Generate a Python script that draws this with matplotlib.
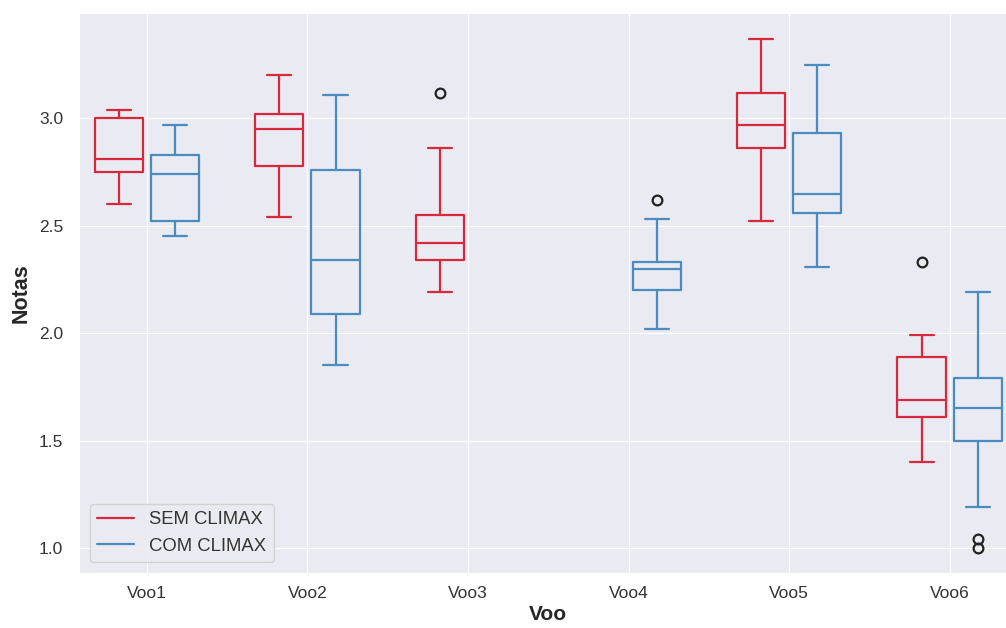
import numpy as np
import matplotlib.pyplot as plt
import seaborn as sns

sns.set_style("darkgrid")
plt.rcParams['font.family'] = ['Liberation Sans', 'DejaVu Sans']

voos = ["Voo1", "Voo2", "Voo3", "Voo4", "Voo5", "Voo6"]

# stats: whislo, q1, median, q3, whishi (None = no box)
sem_climax = [
    [2.60, 2.75, 2.81, 3.00, 3.04],
    [2.54, 2.78, 2.95, 3.02, 3.20],
    [2.19, 2.34, 2.42, 2.55, 2.86],
    None,
    [2.52, 2.86, 2.97, 3.12, 3.37],
    [1.40, 1.61, 1.69, 1.89, 1.99],
]
sem_fliers = [[], [], [3.12], [], [], [2.33]]

com_climax = [
    [2.45, 2.52, 2.74, 2.83, 2.97],
    [1.85, 2.09, 2.34, 2.76, 3.11],
    None,
    [2.02, 2.20, 2.30, 2.33, 2.53],
    [2.31, 2.56, 2.65, 2.93, 3.25],
    [1.19, 1.50, 1.65, 1.79, 2.19],
]
com_fliers = [[], [], [], [2.62], [], [1.04, 1.00]]

red = '#d42a3c'
blue = '#4a8cbf'


def make_stats(rows, fliers):
    stats, pos = [], []
    for i, (r, f) in enumerate(zip(rows, fliers)):
        if r is None:
            continue
        stats.append(dict(whislo=r[0], q1=r[1], med=r[2], q3=r[3], whishi=r[4], fliers=f))
        pos.append(i + 1)
    return stats, pos


def draw(ax, stats, pos, color):
    lp = dict(color=color, linewidth=1.6)
    ax.bxp(stats, positions=pos, widths=0.3, manage_ticks=False,
           boxprops=lp, whiskerprops=lp, capprops=lp, medianprops=lp,
           flierprops=dict(marker='o', markerfacecolor='none', markeredgecolor='#222222',
                           markersize=7, markeredgewidth=1.6))


fig = plt.figure(figsize=(10.06, 6.28), dpi=100)
ax = fig.add_axes([0.0785, 0.0876, 0.933, 0.8917])

s, p = make_stats(sem_climax, sem_fliers)
draw(ax, s, np.array(p) - 0.175, red)
s, p = make_stats(com_climax, com_fliers)
draw(ax, s, np.array(p) + 0.175, blue)

ax.set_xlim(0.577, 6.423)
ax.set_ylim(0.884, 3.49)
ax.set_xticks(range(1, 7))
ax.set_xticklabels(voos)
ax.set_yticks([1.0, 1.5, 2.0, 2.5, 3.0])
ax.tick_params(labelsize=12.5, colors='#333333')
ax.tick_params(axis='y', pad=8)
ax.tick_params(axis='x', pad=6)
ax.set_xlabel("Voo", fontsize=15, fontweight='bold', labelpad=3)
ax.set_ylabel("Notas", fontsize=15.5, fontweight='bold', labelpad=5)

ax.plot([], [], color=red, label="SEM CLIMAX", linewidth=1.6)
ax.plot([], [], color=blue, label="COM CLIMAX", linewidth=1.6)
leg = ax.legend(loc='lower left', fontsize=13.3, borderaxespad=0.6)
for t in leg.get_texts():
    t.set_color('#333333')

fig.savefig("out.png", dpi=100)
